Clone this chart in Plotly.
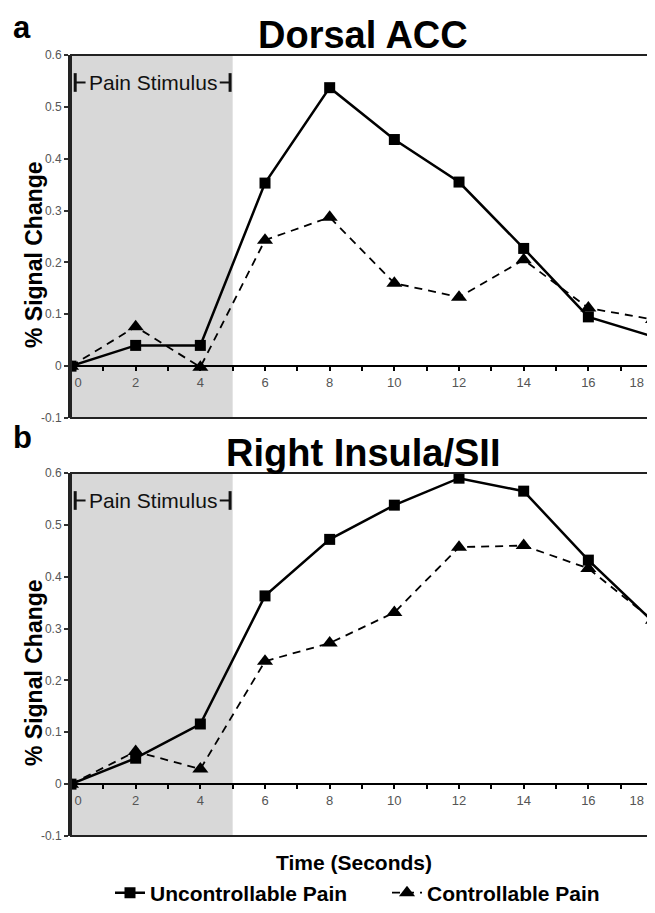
import plotly.graph_objects as go

# ---- data ----
time_s = [0, 2, 4, 6, 8, 10, 12, 14, 16, 18]
dacc_uncontrollable = [0.0, 0.04, 0.04, 0.353, 0.537, 0.437, 0.355, 0.227, 0.095, 0.057]
dacc_controllable = [0.0, 0.076, -0.002, 0.243, 0.287, 0.160, 0.133, 0.205, 0.112, 0.090]
insula_uncontrollable = [0.0, 0.050, 0.116, 0.363, 0.472, 0.538, 0.590, 0.565, 0.432, 0.313]
insula_controllable = [0.0, 0.063, 0.029, 0.237, 0.272, 0.331, 0.457, 0.460, 0.416, 0.316]
panel_titles = ["Dorsal ACC", "Right Insula/SII"]
panel_letters = ["a", "b"]
series_names = ["Uncontrollable Pain", "Controllable Pain"]
x_tick_vals = [0, 2, 4, 6, 8, 10, 12, 14, 16, 18]
x_tick_text = ["0", "2", "4", "6", "8", "10", "12", "14", "16", "18"]
y_tick_vals = [-0.1, 0, 0.1, 0.2, 0.3, 0.4, 0.5, 0.6]
y_tick_text = ["-0.1", "0", "0.1", "0.2", "0.3", "0.4", "0.5", "0.6"]
stim_start, stim_end = 0, 5
y_min, y_max = -0.1, 0.6
x_min, x_max = 0, 18.03

FONT = "Liberation Sans, Arial, sans-serif"
OFF = 8  # default page body margin
W, H = 655 - OFF, 913 - 2 * OFF
ML, MR, MT = 71 - OFF, 1, 55 - OFF
MB = H - (836 - OFF)
plot_h = H - MT - MB
plot_w = W - ML - MR


def py(pix):  # reference screen pixel y -> paper y
    return (H - MB - (pix - OFF)) / plot_h


def px(pix):  # reference screen pixel x -> paper x
    return ((pix - OFF) - ML) / plot_w


# edge tick labels are nudged inward as in the original (non-breaking-space padding)
NB = "\u00a0"
ZW = "\u200b"
x_tick_display = list(x_tick_text)
x_tick_display[0] = ZW + NB * 4 + x_tick_display[0]
x_tick_display[-1] = x_tick_display[-1] + NB * 9 + ZW

panels_px = [(55, 418), (473, 836)]
domains = [[py(b), py(t)] for t, b in panels_px]

fig = go.Figure()

data = [(dacc_uncontrollable, dacc_controllable), (insula_uncontrollable, insula_controllable)]
for i, (unc, con) in enumerate(data):
    xa = "x" if i == 0 else "x2"
    ya = "y" if i == 0 else "y2"
    fig.add_trace(go.Scatter(
        x=time_s, y=unc, name=series_names[0], mode="lines+markers",
        line=dict(color="black", width=2.5),
        marker=dict(symbol="square", size=11, color="black"),
        xaxis=xa, yaxis=ya, showlegend=(i == 0), legendrank=1))
    fig.add_trace(go.Scatter(
        x=time_s, y=con, name=series_names[1], mode="lines+markers",
        line=dict(color="black", width=1.8, dash="8px,6px"),
        marker=dict(symbol="triangle-up", size=14, color="black"),
        xaxis=xa, yaxis=ya, showlegend=(i == 0), legendrank=2))

shapes = []
annotations = []
layout_axes = {}
for i in range(2):
    d0, d1 = domains[i]
    zero_pos = d0 + (0 - y_min) / (y_max - y_min) * (d1 - d0)
    xkey = "xaxis" if i == 0 else "xaxis2"
    ykey = "yaxis" if i == 0 else "yaxis2"
    xref = "x" if i == 0 else "x2"
    yref = "y" if i == 0 else "y2"
    layout_axes[xkey] = dict(
        domain=[0, 1], range=[x_min, x_max], anchor="free", position=zero_pos,
        showline=True, linecolor="black", linewidth=2,
        tickvals=x_tick_vals, ticktext=x_tick_display, ticks="outside", ticklen=4,
        tickwidth=1.5, tickcolor="black", ticklabeloverflow="allow",
        minor=dict(tickmode="linear", tick0=0, dtick=1, ticks="outside", ticklen=4,
                   tickwidth=1.5, tickcolor="black", showgrid=False),
        tickfont=dict(family=FONT, size=13, color="#555"),
        showgrid=False, zeroline=False, fixedrange=True)
    layout_axes[ykey] = dict(
        domain=[d0, d1], range=[y_min, y_max], anchor=xref,
        showline=True, linecolor="#222", linewidth=3,
        tickvals=y_tick_vals, ticktext=y_tick_text, ticks="outside", ticklen=4,
        tickwidth=1.5, tickcolor="#333",
        tickfont=dict(family=FONT, size=12, color="#555"),
        showgrid=False, zeroline=False, fixedrange=True)
    # shaded stimulus period
    shapes.append(dict(type="rect", xref=xref, yref=f"{yref} domain",
                       x0=stim_start, x1=stim_end, y0=0, y1=1,
                       fillcolor="#d8d8d8", line=dict(width=0), layer="below"))
    # frame
    shapes.append(dict(type="rect", xref=f"{xref} domain", yref=f"{yref} domain",
                       x0=0, x1=1, y0=0, y1=1, line=dict(color="#222", width=2),
                       layer="above"))
    # Pain stimulus bracket
    yb = 0.547
    lx, rx = 0.13, 4.92
    for xx in (lx, rx):
        shapes.append(dict(type="line", xref=xref, yref=yref, x0=xx, x1=xx,
                           y0=yb - 0.018, y1=yb + 0.018, line=dict(color="#111", width=3)))
    shapes.append(dict(type="line", xref=xref, yref=yref, x0=lx, x1=0.45,
                       y0=yb, y1=yb, line=dict(color="#111", width=2)))
    shapes.append(dict(type="line", xref=xref, yref=yref, x0=4.6, x1=rx,
                       y0=yb, y1=yb, line=dict(color="#111", width=2)))
    annotations.append(dict(text="Pain Stimulus", xref=xref, yref=yref,
                            x=2.53, y=yb, showarrow=False,
                            font=dict(family=FONT, size=21, color="#111")))
    # panel title
    annotations.append(dict(text=f"<b>{panel_titles[i]}</b>", xref="paper", yref="paper",
                            x=0.5, y=py(panels_px[i][0] - 20), yanchor="middle",
                            showarrow=False,
                            font=dict(family=FONT, size=38, color="black")))
    # panel letter
    if i == 0:
        letter_y, letter_anchor = py(OFF), "top"
    else:
        letter_y, letter_anchor = py(panels_px[i][0] - 35), "middle"
    annotations.append(dict(text=f"<b>{panel_letters[i]}</b>", xref="paper", yref="paper",
                            x=px(22), y=letter_y,
                            xanchor="center", yanchor=letter_anchor, showarrow=False,
                            font=dict(family=FONT, size=31, color="black")))
    # y axis title
    annotations.append(dict(text="<b>% Signal Change</b>", xref="paper", yref="paper",
                            x=px(34), y=py(panels_px[i][0] + 200),
                            xanchor="center", yanchor="middle", textangle=-90,
                            showarrow=False,
                            font=dict(family=FONT, size=23, color="black")))

annotations.append(dict(text="<b>Time (Seconds)</b>", xref="paper", yref="paper",
                        x=px(354), y=py(862),
                        xanchor="center", yanchor="middle", showarrow=False,
                        font=dict(family=FONT, size=21, color="black")))

fig.update_layout(
    width=W, height=H,
    margin=dict(l=ML, r=MR, t=MT, b=MB, autoexpand=False),
    paper_bgcolor="white", plot_bgcolor="white",
    shapes=shapes, annotations=annotations,
    showlegend=True,
    legend=dict(orientation="h", x=px(110), xanchor="left",
                y=py(893), yanchor="middle",
                font=dict(family=FONT, size=21, color="black", weight="bold"),
                bgcolor="rgba(0,0,0,0)", itemwidth=30, traceorder="normal",
                entrywidth=232, entrywidthmode="pixels"),
    **layout_axes,
)

fig.write_html("out.html")
